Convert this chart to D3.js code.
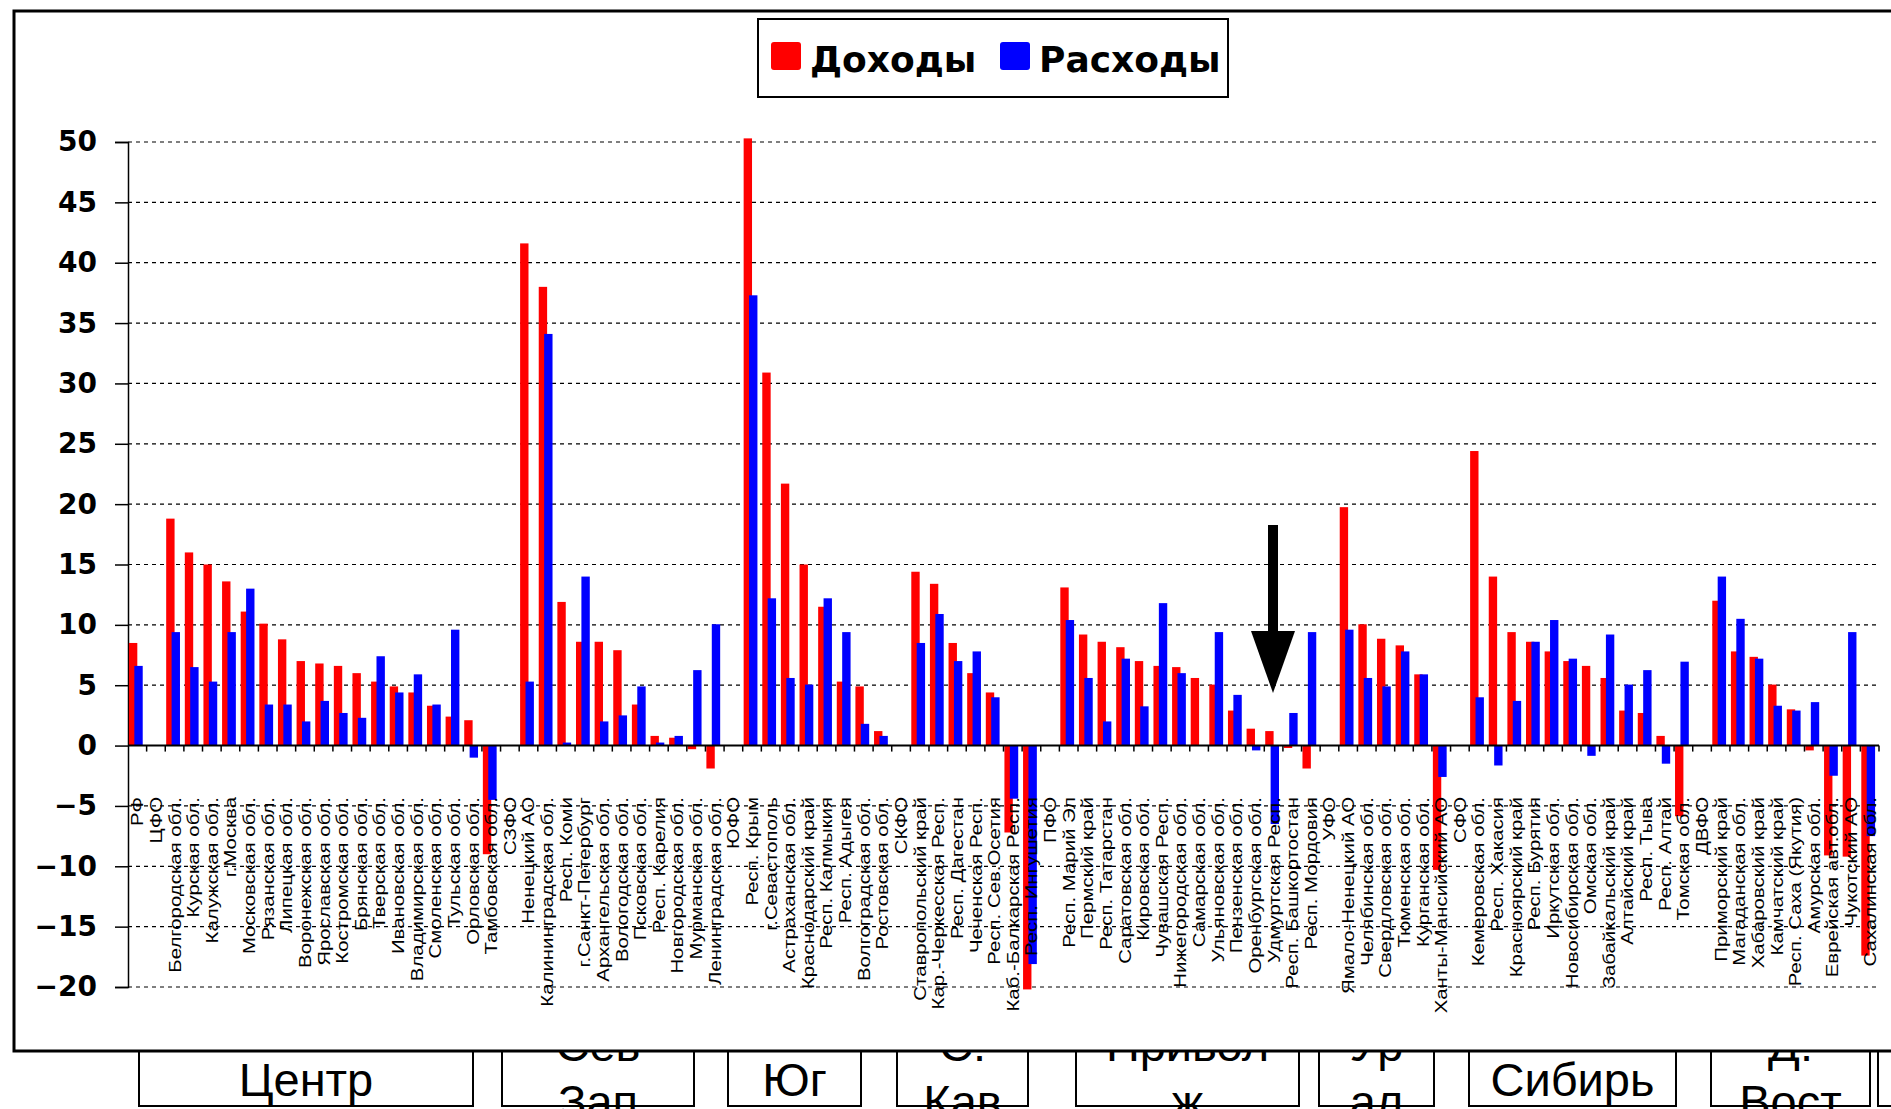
<!DOCTYPE html>
<html>
<head>
<meta charset="utf-8">
<title>Доходы и расходы</title>
<script src="https://d3js.org/d3.v7.min.js"></script>
<style>
  body { margin: 0; background: #fff; }
  svg { display: block; }
  .cat { font-family: "Liberation Sans", Arial, sans-serif; font-size: 17px; fill: #000; }
  .ylab { font-family: "DejaVu Sans", sans-serif; font-size: 28px; font-weight: bold; fill: #000; }
  .leg { font-family: "DejaVu Sans", sans-serif; font-size: 36px; font-weight: bold; fill: #000; }
  .reg { font-family: "Liberation Sans", Arial, sans-serif; font-size: 47px; fill: #000; }
</style>
</head>
<body>
<script>
// categories (regions and federal districts), left to right
var categories = [
  "РФ", "ЦФО", "Белгородская обл.", "Курская обл.", "Калужская обл.", "г.Москва",
  "Московская обл.", "Рязанская обл.", "Липецкая обл.", "Воронежская обл.", "Ярославская обл.",
  "Костромская обл.", "Брянская обл.", "Тверская обл.", "Ивановская обл.", "Владимирская обл.",
  "Смоленская обл.", "Тульская обл.", "Орловская обл.", "Тамбовская обл.",
  "СЗФО", "Ненецкий АО", "Калининградская обл.", "Респ. Коми", "г.Санкт-Петербург",
  "Архангельская обл.", "Вологодская обл.", "Псковская обл.", "Респ. Карелия",
  "Новгородская обл.", "Мурманская обл.", "Ленинградская обл.",
  "ЮФО", "Респ. Крым", "г.Севастополь", "Астраханская обл.", "Краснодарский край",
  "Респ. Калмыкия", "Респ. Адыгея", "Волгоградская обл.", "Ростовская обл.",
  "СКФО", "Ставропольский край", "Кар.-Черкесская Респ.", "Респ. Дагестан", "Чеченская Респ.",
  "Респ. Сев.Осетия", "Каб.-Балкарская Респ.", "Респ. Ингушетия",
  "ПФО", "Респ. Марий Эл", "Пермский край", "Респ. Татарстан", "Саратовская обл.",
  "Кировская обл.", "Чувашская Респ.", "Нижегородская обл.", "Самарская обл.",
  "Ульяновская обл.", "Пензенская обл.", "Оренбургская обл.", "Удмуртская Респ.",
  "Респ. Башкортостан", "Респ. Мордовия",
  "УФО", "Ямало-Ненецкий АО", "Челябинская обл.", "Свердловская обл.", "Тюменская обл.",
  "Курганская обл.", "Ханты-Мансийский АО",
  "СФО", "Кемеровская обл.", "Респ. Хакасия", "Красноярский край", "Респ. Бурятия",
  "Иркутская обл.", "Новосибирская обл.", "Омская обл.", "Забайкальский край",
  "Алтайский край", "Респ. Тыва", "Респ. Алтай", "Томская обл.",
  "ДВФО", "Приморский край", "Магаданская обл.", "Хабаровский край", "Камчатский край",
  "Респ. Саха (Якутия)", "Амурская обл.", "Еврейская авт.обл.", "Чукотский АО", "Сахалинская обл."
];

// Доходы (red)
var dohody = [
  8.5, null, 18.8, 16.0, 15.0, 13.6, 11.1, 10.1, 8.8, 7.0, 6.8, 6.6, 6.0, 5.3, 4.9, 4.4, 3.3, 2.4, 2.1, -9.0,
  null, 41.6, 38.0, 11.9, 8.6, 8.6, 7.9, 3.4, 0.8, 0.65, -0.3, -1.9,
  null, 50.3, 30.9, 21.7, 15.0, 11.5, 5.3, 4.9, 1.2,
  null, 14.4, 13.4, 8.5, 6.0, 4.4, -7.2, -20.2,
  null, 13.1, 9.2, 8.6, 8.15, 7.0, 6.6, 6.5, 5.6, 5.05, 2.9, 1.4, 1.2, -0.2, -1.9,
  null, 19.75, 10.05, 8.85, 8.3, 5.9, -10.3,
  null, 24.4, 14.0, 9.4, 8.6, 7.8, 7.0, 6.6, 5.6, 2.9, 2.7, 0.8, -5.85,
  null, 12.0, 7.8, 7.35, 5.05, 3.0, -0.4, -9.1, -9.2, -17.4
];

// Расходы (blue)
var rashody = [
  6.6, null, 9.4, 6.5, 5.3, 9.4, 13.0, 3.4, 3.4, 2.0, 3.7, 2.7, 2.3, 7.4, 4.4, 5.9, 3.4, 9.6, -1.0, -4.5,
  null, 5.3, 34.1, 0.25, 14.0, 2.0, 2.5, 4.9, 0.25, 0.8, 6.25, 10.05,
  null, 37.3, 12.2, 5.6, 5.05, 12.2, 9.4, 1.8, 0.8,
  null, 8.5, 10.9, 7.0, 7.8, 4.0, -4.4, -18.1,
  null, 10.4, 5.6, 2.0, 7.2, 3.25, 11.8, 6.0, null, 9.4, 4.2, -0.4, -6.5, 2.7, 9.4,
  null, 9.6, 5.6, 4.9, 7.8, 5.9, -2.6,
  null, 4.0, -1.65, 3.7, 8.6, 10.4, 7.2, -0.85, 9.2, 5.05, 6.25, -1.5, 6.95,
  null, 14.0, 10.5, 7.2, 3.3, 2.9, 3.6, -2.5, 9.4, -7.5
];

var yTicks = [-20, -15, -10, -5, 0, 5, 10, 15, 20, 25, 30, 35, 40, 45, 50];
var seriesNames = ["Доходы", "Расходы"];
var seriesColors = ["#ff0000", "#0000ff"];

// federal district captions in the table under the chart (lines of each cell)
var regionNames = [["Центр"], ["Сев", "Зап"], ["Юг"], ["С.", "Кав"], ["Привол", "ж"],
                   ["Ур", "ал"], ["Сибирь"], ["Д.", "Вост"], [""]];
// cell edges (pixels)
var regionCells = [[139, 473], [502, 694], [728, 861], [897, 1028], [1076, 1299],
                   [1319, 1434], [1469, 1676], [1711, 1870], [1878, 1960]];

var width = 1891, height = 1109;

var svg = d3.select("body").append("svg")
  .attr("width", width)
  .attr("height", height);

// table of districts (drawn first, the chart frame covers its top)
var reg = svg.append("g");
regionCells.forEach(function(c, i) {
  reg.append("rect")
    .attr("x", c[0]).attr("y", 1040)
    .attr("width", c[1] - c[0]).attr("height", 66)
    .attr("fill", "#fff").attr("stroke", "#000").attr("stroke-width", 2);
  var lines = regionNames[i];
  var cx = (c[0] + c[1]) / 2;
  if (lines.length == 1) {
    reg.append("text").attr("class", "reg")
      .attr("x", cx).attr("y", 1096)
      .attr("text-anchor", "middle")
      .text(lines[0]);
  } else {
    reg.append("text").attr("class", "reg")
      .attr("x", cx).attr("y", 1061)
      .attr("text-anchor", "middle")
      .text(lines[0]);
    reg.append("text").attr("class", "reg")
      .attr("x", cx).attr("y", 1118)
      .attr("text-anchor", "middle")
      .text(lines[1]);
  }
});

// chart frame
svg.append("rect")
  .attr("x", 14).attr("y", 11)
  .attr("width", 1900).attr("height", 1040)
  .attr("fill", "#fff")
  .attr("stroke", "#000")
  .attr("stroke-width", 3);

var x = d3.scaleBand()
  .domain(categories)
  .range([128, 1879])
  .padding(0);

var y = d3.scaleLinear()
  .domain([-20, 50])
  .range([987, 142]);

var bw = x.bandwidth();

// gridlines
svg.append("g").selectAll("line")
  .data(yTicks.filter(function(d) { return d != 0; }))
  .enter().append("line")
  .attr("x1", 128).attr("x2", 1879)
  .attr("y1", function(d) { return y(d); })
  .attr("y2", function(d) { return y(d); })
  .attr("stroke", "#000")
  .attr("stroke-width", 1.2)
  .attr("stroke-dasharray", "4,4");

// y axis
var yAxis = d3.axisLeft(y)
  .tickValues(yTicks)
  .tickSize(13)
  .tickPadding(18)
  .tickFormat(d3.format("d"));

var ya = svg.append("g")
  .attr("transform", "translate(128,0)")
  .call(yAxis);
ya.select(".domain").attr("stroke", "#000").attr("stroke-width", 1.5);
ya.selectAll("line").attr("stroke", "#000").attr("stroke-width", 1.5);
ya.selectAll("text").attr("class", "ylab").attr("font-size", null).attr("font-family", null);

// bars
var red = svg.append("g");
red.selectAll("rect")
  .data(categories.map(function(c, i) { return [c, dohody[i]]; }).filter(function(d) { return d[1] != null; }))
  .enter().append("rect")
  .attr("x", function(d) { return x(d[0]) + bw * 0.05; })
  .attr("width", bw * 0.45)
  .attr("y", function(d) { return Math.min(y(d[1]), y(0)); })
  .attr("height", function(d) { return Math.abs(y(d[1]) - y(0)); })
  .attr("fill", seriesColors[0]);

var blue = svg.append("g");
blue.selectAll("rect")
  .data(categories.map(function(c, i) { return [c, rashody[i]]; }).filter(function(d) { return d[1] != null; }))
  .enter().append("rect")
  .attr("x", function(d) { return x(d[0]) + bw * 0.34; })
  .attr("width", bw * 0.45)
  .attr("y", function(d) { return Math.min(y(d[1]), y(0)); })
  .attr("height", function(d) { return Math.abs(y(d[1]) - y(0)); })
  .attr("fill", seriesColors[1]);

// category axis on the zero line
var xa = svg.append("g")
  .attr("transform", "translate(0," + y(0) + ")");
xa.append("line")
  .attr("x1", 128).attr("x2", 1879)
  .attr("stroke", "#000").attr("stroke-width", 2);
xa.selectAll(".tk")
  .data(categories)
  .enter().append("line")
  .attr("class", "tk")
  .attr("x1", function(d) { return x(d) + bw; })
  .attr("x2", function(d) { return x(d) + bw; })
  .attr("y1", 0).attr("y2", 6)
  .attr("stroke", "#000").attr("stroke-width", 1.5);

// rotated category labels, a little stretched along the text like in the original
svg.append("g").selectAll("text")
  .data(categories)
  .enter().append("text")
  .attr("class", "cat")
  .attr("transform", function(d) { return "translate(" + (x(d) + bw / 2) + ",797) rotate(-90) scale(1.2,1)"; })
  .attr("dy", "0.35em")
  .attr("text-anchor", "end")
  .text(function(d) { return d; });

// legend
var lg = svg.append("g");
lg.append("rect")
  .attr("x", 758).attr("y", 19)
  .attr("width", 470).attr("height", 78)
  .attr("fill", "#fff").attr("stroke", "#000").attr("stroke-width", 2);
var legX = [771, 1000];
seriesNames.forEach(function(n, i) {
  lg.append("rect")
    .attr("x", legX[i]).attr("y", 42)
    .attr("width", 30).attr("height", 28)
    .attr("rx", 3)
    .attr("fill", seriesColors[i]);
  lg.append("text").attr("class", "leg")
    .attr("x", legX[i] + 39).attr("y", 72)
    .text(n);
});

// arrow pointing at Удмуртская Респ.
var ax = 1273;
svg.append("rect")
  .attr("x", ax - 5).attr("y", 525)
  .attr("width", 10).attr("height", 110)
  .attr("fill", "#000");
svg.append("path")
  .attr("d", "M" + (ax - 22) + ",631 L" + (ax + 22) + ",631 L" + ax + ",693 Z")
  .attr("fill", "#000");
</script>
</body>
</html>
